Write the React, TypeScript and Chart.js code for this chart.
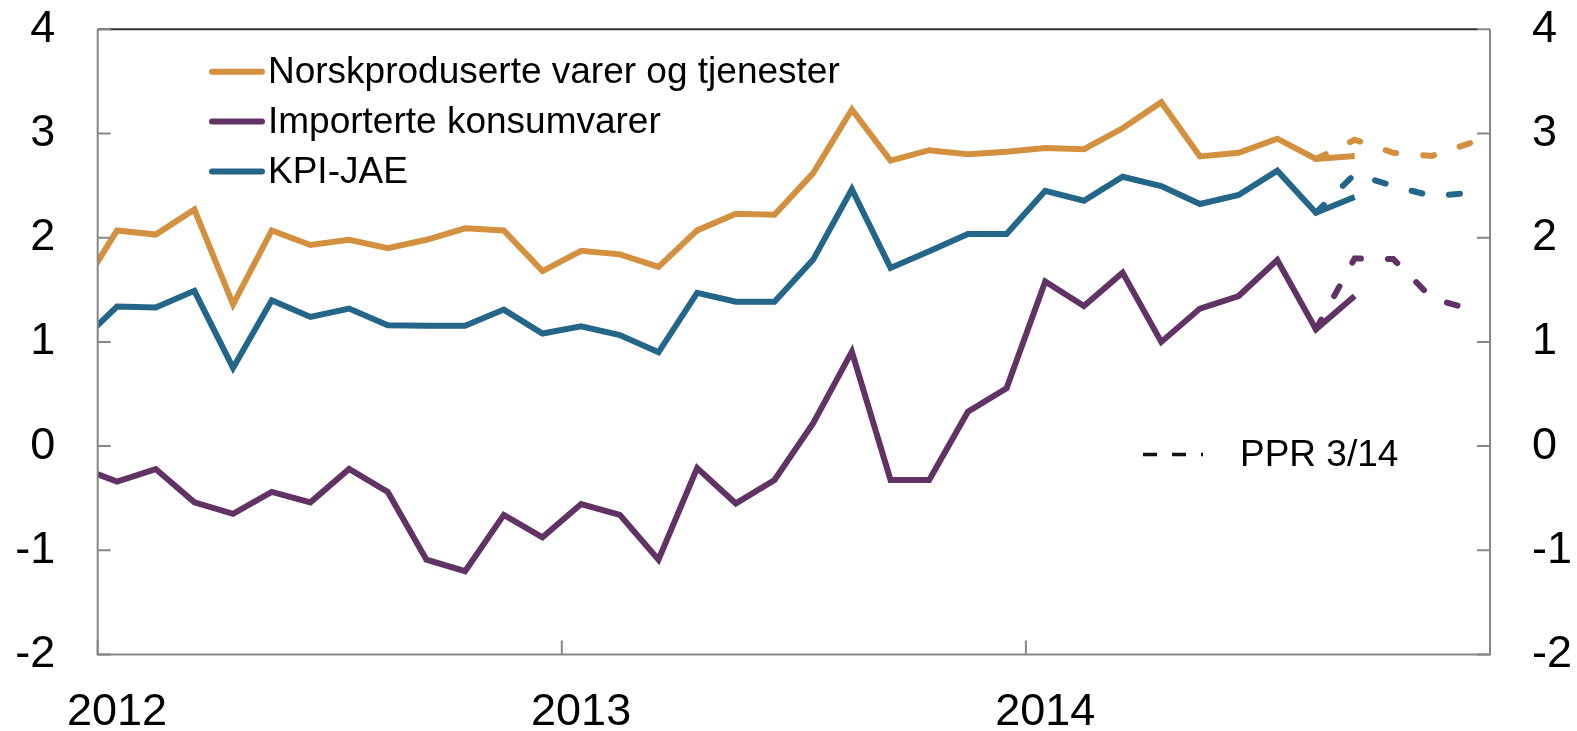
import React, { useEffect, useRef } from "react";
import { Chart, registerables } from "chart.js";

Chart.register(...registerables);

// Months of the observed series (Dec 2011 is outside the axis and gets clipped)
const months = [
  "2011-12",
  "2012-01", "2012-02", "2012-03", "2012-04", "2012-05", "2012-06",
  "2012-07", "2012-08", "2012-09", "2012-10", "2012-11", "2012-12",
  "2013-01", "2013-02", "2013-03", "2013-04", "2013-05", "2013-06",
  "2013-07", "2013-08", "2013-09", "2013-10", "2013-11", "2013-12",
  "2014-01", "2014-02", "2014-03", "2014-04", "2014-05", "2014-06",
  "2014-07", "2014-08", "2014-09",
];

const norskproduserte = [
  1.47,
  2.07, 2.03, 2.27, 1.36, 2.07, 1.93, 1.98, 1.9, 1.98, 2.09, 2.07, 1.68,
  1.875, 1.84, 1.72, 2.07, 2.23, 2.22, 2.62, 3.23, 2.74, 2.84, 2.8, 2.825,
  2.86, 2.85, 3.05, 3.3, 2.78, 2.815, 2.95, 2.755, 2.785,
];

const importerte = [
  -0.2,
  -0.34, -0.22, -0.54, -0.65, -0.44, -0.54, -0.22, -0.44, -1.09, -1.2, -0.66, -0.875,
  -0.556, -0.66, -1.09, -0.21, -0.55, -0.325, 0.22, 0.906, -0.325, -0.325, 0.33, 0.555,
  1.58, 1.345, 1.665, 1.0, 1.32, 1.44, 1.786, 1.12, 1.44,
];

const kpiJae = [
  0.98,
  1.34, 1.33, 1.49, 0.75, 1.4, 1.24, 1.32, 1.16, 1.155, 1.155, 1.31, 1.08,
  1.15, 1.066, 0.9, 1.47, 1.386, 1.386, 1.79, 2.465, 1.71, 1.87, 2.035, 2.035,
  2.45, 2.355, 2.585, 2.496, 2.323, 2.41, 2.643, 2.24, 2.39,
];

// PPR 3/14 projections
const pprMonths = ["2014-08", "2014-09", "2014-10", "2014-11", "2014-12"];
const pprNorskproduserte = [2.755, 2.94, 2.815, 2.785, 2.91];
const pprImporterte = [1.12, 1.8, 1.795, 1.42, 1.31];
const pprKpiJae = [2.24, 2.61, 2.496, 2.4, 2.43];

const yearLabels = ["2012", "2013", "2014"];
const yTickValues = [-2, -1, 0, 1, 2, 3, 4];

const seriesLabels = [
  "Norskproduserte varer og tjenester",
  "Importerte konsumvarer",
  "KPI-JAE",
];
const pprLabel = "PPR 3/14";

const ORANGE = "#D3903F";
const PURPLE = "#613364";
const BLUE = "#236689";
const FONT = "'Liberation Sans', Arial, sans-serif";

const monthPos = (m: string) => {
  const [y, mo] = m.split("-").map(Number);
  return (y - 2012) * 12 + (mo - 1) + 0.5;
};
const yearPos = (label: string) => (Number(label) - 2012) * 12;

const toPoints = (ms: string[], vals: number[]) =>
  ms.map((m, i) => ({ x: monthPos(m), y: vals[i] }));

const framePlugin = {
  id: "frameAndLegend",
  afterDatasetsDraw(chart: any) {
    const { ctx, chartArea, scales } = chart;
    const { left, right, top, bottom } = chartArea;
    ctx.save();
    // axes
    ctx.lineWidth = 2;
    ctx.strokeStyle = "#868686";
    ctx.beginPath();
    ctx.moveTo(left, top);
    ctx.lineTo(left, bottom);
    ctx.lineTo(right, bottom);
    ctx.lineTo(right, top);
    ctx.stroke();
    ctx.strokeStyle = "#333333";
    ctx.beginPath();
    ctx.moveTo(left, top);
    ctx.lineTo(right - 12, top);
    ctx.stroke();
    // tick marks (inside)
    ctx.strokeStyle = "#868686";
    ctx.beginPath();
    yTickValues.forEach((v) => {
      const y = scales.y.getPixelForValue(v);
      ctx.moveTo(left, y);
      ctx.lineTo(left + 13, y);
      ctx.moveTo(right, y);
      ctx.lineTo(right - 13, y);
    });
    yearLabels.forEach((l) => {
      const x = scales.x.getPixelForValue(yearPos(l));
      ctx.moveTo(x, bottom);
      ctx.lineTo(x, bottom - 14);
    });
    ctx.stroke();

    // legend
    ctx.font = `37px ${FONT}`;
    ctx.textBaseline = "middle";
    ctx.textAlign = "left";
    const colors = [ORANGE, PURPLE, BLUE];
    const rowsY = [71.7, 121.5, 171.5];
    seriesLabels.forEach((lab, i) => {
      ctx.strokeStyle = colors[i];
      ctx.lineWidth = 6;
      ctx.lineCap = "round";
      ctx.beginPath();
      ctx.moveTo(212, rowsY[i]);
      ctx.lineTo(262, rowsY[i]);
      ctx.stroke();
      ctx.fillStyle = "#000";
      ctx.fillText(lab, 268, rowsY[i] + 1);
    });
    // PPR legend
    ctx.strokeStyle = "#111";
    ctx.lineWidth = 3.5;
    ctx.lineCap = "butt";
    ctx.setLineDash([14, 15]);
    ctx.beginPath();
    ctx.moveTo(1143, 454.5);
    ctx.lineTo(1203, 454.5);
    ctx.stroke();
    ctx.setLineDash([]);
    ctx.fillStyle = "#000";
    ctx.fillText(pprLabel, 1240, 456);
    ctx.restore();
  },
};

const zeroPad = (s: any) => {
  s.paddingTop = 0;
  s.paddingBottom = 0;
  s.paddingLeft = 0;
  s.paddingRight = 0;
};

export default function App() {
  const ref = useRef<HTMLCanvasElement | null>(null);

  useEffect(() => {
    if (!ref.current) return;
    const solid = (label: string, ms: string[], vals: number[], color: string) => ({
      label,
      data: toPoints(ms, vals),
      borderColor: color,
      backgroundColor: color,
      borderWidth: 6,
      pointRadius: 0,
      tension: 0,
      fill: false,
    });
    const dashed = (label: string, ms: string[], vals: number[], color: string) => ({
      label,
      data: toPoints(ms, vals),
      borderColor: color,
      backgroundColor: color,
      borderWidth: 6,
      borderDash: [11, 27],
      borderCapStyle: "round",
      pointRadius: 0,
      tension: 0,
      fill: false,
    });
    const tickFont = { family: FONT, size: 45 };
    const chart = new Chart(ref.current, {
      type: "line",
      data: {
        datasets: [
          dashed(pprLabel, pprMonths, pprNorskproduserte, ORANGE),
          dashed(pprLabel, pprMonths, pprImporterte, PURPLE),
          dashed(pprLabel, pprMonths, pprKpiJae, BLUE),
          solid(seriesLabels[0], months, norskproduserte, ORANGE),
          solid(seriesLabels[1], months, importerte, PURPLE),
          solid(seriesLabels[2], months, kpiJae, BLUE),
        ] as any,
      },
      options: {
        animation: false,
        responsive: false,
        maintainAspectRatio: false,
        layout: { padding: { top: 29.3, left: 0, right: 0, bottom: 0 } },
        plugins: { legend: { display: false }, tooltip: { enabled: false } },
        scales: {
          x: {
            type: "linear",
            min: 0,
            max: 36,
            grid: { display: false, drawTicks: false },
            border: { display: false },
            afterBuildTicks: (s: any) => {
              s.ticks = yearLabels.map((l) => ({ value: yearPos(l) }));
            },
            afterFit: (s: any) => {
              s.height = 731 - 654.5;
              zeroPad(s);
            },
            ticks: {
              autoSkip: false,
              maxRotation: 0,
              minRotation: 0,
              labelOffset: 19.3,
              padding: 31,
              color: "#000",
              font: tickFont,
              callback: (v: any) => String(2012 + Math.round(Number(v) / 12)),
            },
          },
          y: {
            type: "linear",
            position: "left",
            min: -2,
            max: 4,
            grid: { display: false, drawTicks: false },
            border: { display: false },
            afterFit: (s: any) => {
              s.width = 97.7;
              zeroPad(s);
            },
            ticks: {
              stepSize: 1,
              padding: 42.5,
              color: "#000",
              font: tickFont,
              callback: (v: any) => String(v),
            },
          },
          y2: {
            type: "linear",
            position: "right",
            min: -2,
            max: 4,
            grid: { display: false, drawTicks: false },
            border: { display: false },
            afterFit: (s: any) => {
              s.width = 1577 - 1490;
              zeroPad(s);
            },
            ticks: {
              stepSize: 1,
              padding: 42,
              color: "#000",
              font: tickFont,
              callback: (v: any) => String(v),
            },
          },
        },
      } as any,
      plugins: [framePlugin],
    });
    return () => chart.destroy();
  }, []);

  return (
    <div style={{ position: "absolute", left: 0, top: 0, width: 1577, height: 731, background: "#fff" }}>
      <canvas ref={ref} width={1577} height={731} style={{ display: "block" }} />
    </div>
  );
}
